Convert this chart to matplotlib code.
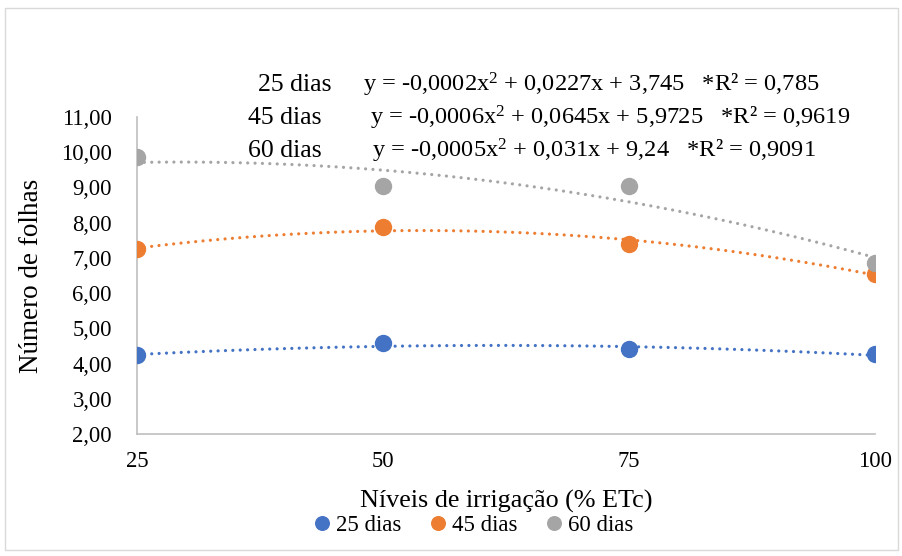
import numpy as np
import matplotlib
matplotlib.use("Agg")
import matplotlib.pyplot as plt
from matplotlib.patches import Rectangle
from matplotlib.ticker import FuncFormatter

plt.rcParams['font.family'] = ['Liberation Serif', 'DejaVu Serif']
plt.rcParams['mathtext.fontset'] = 'custom'
plt.rcParams['mathtext.rm'] = 'Liberation Serif'
plt.rcParams['mathtext.it'] = 'Liberation Serif:italic'
plt.rcParams['mathtext.bf'] = 'Liberation Serif:bold'

levels = [25, 50, 75, 100]
series_names = ['25 dias', '45 dias', '60 dias']
v25 = [4.23, 4.57, 4.40, 4.26]
v45 = [7.24, 7.88, 7.40, 6.55]
v60 = [9.86, 9.04, 9.04, 6.86]
colors = ['#4472C4', '#ED7D31', '#A5A5A5']
equations = [
    r'y = -0,0002x$^{\mathrm{2}}$ + 0,0227x + 3,745   *R² = 0,785',
    r'y = -0,0006x$^{\mathrm{2}}$ + 0,0645x + 5,9725   *R² = 0,9619',
    r'y = -0,0005x$^{\mathrm{2}}$ + 0,031x + 9,24   *R² = 0,9091',
]
yticks = [2, 3, 4, 5, 6, 7, 8, 9, 10, 11]

fig = plt.figure(figsize=(9.03, 5.56), dpi=100)
ax = fig.add_axes([0.1517, 0.2194, 0.8173, 0.5702])

xs = np.linspace(25, 100, 200)
for vals, c, name in zip([v25, v45, v60], colors, series_names):
    coef = np.polyfit(levels, vals, 2)
    ax.plot(xs, np.polyval(coef, xs), linestyle=(0, (0.01, 2.3)), color=c, lw=2.3,
            dash_capstyle='round', zorder=2)
    ax.plot(levels, vals, 'o', color=c, ms=11.5, label=name, zorder=3)

ax.set_xlim(25, 100)
ax.set_ylim(2, 11)
ax.set_xticks(levels)
ax.set_yticks(yticks)
ax.yaxis.set_major_formatter(FuncFormatter(lambda v, p: f'{v:.2f}'.replace('.', ',')))
ax.tick_params(axis='both', length=0, labelsize=16.3, colors='black')
ax.tick_params(axis='y', pad=18)
ax.tick_params(axis='x', pad=12)
for s in ['top', 'right']:
    ax.spines[s].set_visible(False)
for s in ['left', 'bottom']:
    ax.spines[s].set_color('#BFBFBF')
    ax.spines[s].set_linewidth(1.2)

ax.set_ylabel('Número de folhas', fontsize=19.5, labelpad=12)
ax.set_xlabel('Níveis de irrigação (% ETc)', fontsize=18.8, labelpad=13)

# equation annotations
rows_y = [85, 118, 151]
label_x = [258, 248, 248]
eq_x = [363, 370, 372]
for name, eq, ry, lx, ex in zip(series_names, equations, rows_y, label_x, eq_x):
    fig.text(lx / 903, 1 - ry / 556, name, fontsize=18.5, va='center', ha='left')
    fig.text(ex / 903, 1 - ry / 556, eq, fontsize=17.6, va='center', ha='left')

leg = fig.legend(loc='center', bbox_to_anchor=(472 / 903, 1 - 525 / 556), ncol=3,
                 frameon=False, fontsize=16.5, handletextpad=0.1, columnspacing=1.1,
                 markerscale=0.85, handlelength=1.0)

fig.patches.append(Rectangle((0.005, 0.01), 0.99, 0.975, transform=fig.transFigure,
                             fill=False, edgecolor='#D9D9D9', lw=1))

fig.savefig('out.png', dpi=100)
